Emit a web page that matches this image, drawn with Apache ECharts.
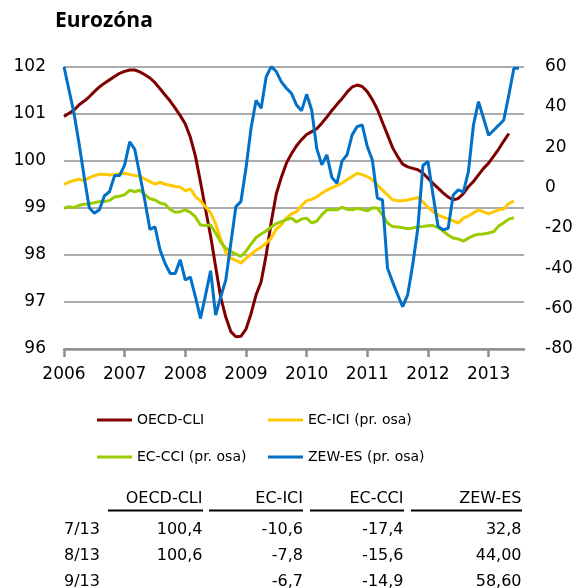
<!DOCTYPE html>
<html>
<head>
<meta charset="utf-8">
<script src="https://cdn.jsdelivr.net/npm/echarts@6/dist/echarts.min.js"></script>
<style>
html,body{margin:0;padding:0;background:#fff;}
#chart{width:583px;height:588px;}
</style>
</head>
<body>
<div id="chart"></div>
<script>
// ---- data ----
const years = ['2006','2007','2008','2009','2010','2011','2012','2013'];
const monthCount = 92;

const oecdCli = [100.94,101.01,101.08,101.19,101.27,101.36,101.47,101.57,101.65,101.72,
101.79,101.86,101.90,101.93,101.93,101.89,101.83,101.76,101.66,101.53,
101.40,101.27,101.12,100.96,100.78,100.50,100.10,99.55,98.97,98.40,
97.75,97.10,96.68,96.37,96.26,96.27,96.42,96.75,97.15,97.43,
98.00,98.70,99.30,99.65,99.95,100.15,100.32,100.45,100.56,100.62,
100.68,100.80,100.93,101.07,101.20,101.32,101.46,101.57,101.61,101.58,
101.47,101.30,101.09,100.82,100.55,100.28,100.09,99.93,99.87,99.84,
99.81,99.74,99.63,99.52,99.42,99.32,99.23,99.17,99.20,99.30,
99.45,99.56,99.70,99.84,99.95,100.10,100.25,100.42,100.58];

const ecIci = [1.7,2.8,3.6,4.2,3.5,5.0,5.9,6.7,6.7,6.3,
6.6,7.0,7.2,6.6,6.0,5.6,4.3,3.0,1.8,2.7,
1.7,1.2,0.6,0.3,-1.6,-0.6,-4.4,-6.5,-9.5,-12.5,
-18.0,-25.5,-32.0,-35.0,-36.0,-37.4,-35.0,-33.0,-31.0,-29.5,
-27.5,-25.0,-20.5,-18.5,-15.0,-13.0,-11.9,-9.0,-6.4,-5.8,
-4.5,-2.8,-1.2,0.0,1.0,2.3,4.0,5.6,7.2,6.5,
5.5,3.9,1.2,-1.2,-3.6,-6.0,-6.5,-6.5,-6.1,-5.5,
-4.9,-7.0,-9.8,-11.9,-13.5,-14.6,-15.5,-16.5,-17.6,-15.1,
-14.0,-12.5,-11.0,-12.0,-13.0,-12.0,-11.0,-10.6,-7.8,-6.7];

const ecCci = [-10.2,-9.4,-9.9,-8.7,-8.2,-7.9,-7.5,-6.9,-6.9,-6.3,
-4.6,-4.2,-3.5,-1.3,-2.0,-1.3,-3.5,-5.4,-6.1,-7.6,
-8.2,-10.8,-12.2,-11.9,-11.0,-12.2,-14.5,-18.5,-18.8,-18.5,
-22.5,-27.0,-30.0,-31.5,-33.0,-34.0,-31.5,-28.0,-24.7,-23.0,
-21.5,-19.5,-17.8,-16.8,-15.8,-15.1,-17.0,-15.5,-15.1,-17.5,
-16.6,-13.5,-11.0,-11.0,-11.0,-9.7,-10.7,-11.0,-10.2,-10.8,
-11.5,-10.0,-10.2,-13.5,-17.5,-19.3,-19.5,-19.9,-20.4,-20.0,
-19.4,-19.3,-18.9,-18.8,-19.8,-21.5,-23.5,-25.0,-25.4,-26.5,
-25.0,-23.8,-23.1,-23.0,-22.5,-21.8,-19.0,-17.4,-15.6,-14.9];

const zewEs = [60.0,48.3,36.7,21.5,5.2,-10.0,-12.7,-11.0,-4.0,-2.0,
6.0,6.0,11.3,22.7,19.0,6.4,-6.5,-20.7,-19.4,-30.9,
-37.6,-42.5,-42.5,-35.8,-45.8,-44.3,-54.1,-64.8,-53.3,-41.2,
-63.2,-54.1,-45.9,-27.7,-9.4,-6.9,9.6,29.5,43.4,39.4,
55.0,60.0,57.6,52.5,49.3,46.8,41.0,38.2,46.3,38.5,
19.5,11.3,16.3,5.0,2.2,13.2,16.3,26.2,30.3,31.1,
20.4,13.7,-5.2,-6.1,-40.0,-46.7,-53.0,-59.0,-53.0,-38.0,
-20.0,11.0,13.0,-3.6,-19.3,-20.9,-20.1,-3.6,-1.1,-2.2,
8.0,31.1,42.7,34.4,26.0,28.5,31.0,33.6,46.0,59.2,59.2];

const seriesNames = ['OECD-CLI','EC-ICI (pr. osa)','EC-CCI (pr. osa)','ZEW-ES (pr. osa)'];

const tableHeaders = ['OECD-CLI','EC-ICI','EC-CCI','ZEW-ES'];
const tableRowLabels = ['7/13','8/13','9/13'];
const tableOecd = ['100,4','100,6',''];
const tableIci = ['-10,6','-7,8','-6,7'];
const tableCci = ['-17,4','-15,6','-14,9'];
const tableZew = ['32,8','44,00','58,60'];

// ---- build ----
const categories = [];
for (const y of years) for (let m = 1; m <= 12; m++) categories.push(y + '-' + (m < 10 ? '0' + m : m));
categories.length = monthCount;

const colors = ['#800000','#FFC800','#99CC00','#0070C8'];
const FONT = '"DejaVu Sans", sans-serif';
const gridCol = '#8f8f8f';

const legendPos = [[97,412],[268,412],[97,449],[268,449]];
const legends = seriesNames.map((n,i)=>({
  data:[n], left:legendPos[i][0], top:legendPos[i][1], padding:0, itemGap:0,
  icon:'rect', itemWidth:35, itemHeight:3, selectedMode:false,
  textStyle:{fontFamily:FONT, fontSize:14, color:'#000', lineHeight:16}
}));

const colRight = [202.5, 303, 403.5, 521.5];
const colLineSpan = [[108,203],[209,303],[310,404],[411,522]];
const headerY = 499;
const rowY = [529.7, 555.5, 582];
const tableCols = [tableOecd, tableIci, tableCci, tableZew];
const tfont = '16px "DejaVu Sans"';
const graphics = [];
tableHeaders.forEach((h,i)=>{
  graphics.push({type:'text', x:colRight[i], y:headerY, style:{text:h, align:'right', verticalAlign:'middle', font:tfont, fill:'#000'}});
  graphics.push({type:'line', shape:{x1:colLineSpan[i][0], y1:510.5, x2:colLineSpan[i][1], y2:510.5}, style:{stroke:'#000', lineWidth:2}});
});
tableRowLabels.forEach((r,j)=>{
  graphics.push({type:'text', x:64, y:rowY[j], style:{text:r, align:'left', verticalAlign:'middle', font:tfont, fill:'#000'}});
  tableCols.forEach((col,i)=>{
    graphics.push({type:'text', x:colRight[i], y:rowY[j], style:{text:col[j], align:'right', verticalAlign:'middle', font:tfont, fill:'#000'}});
  });
});

const dataSets = [oecdCli, ecIci, ecCci, zewEs];
const option = {
  animation:false,
  backgroundColor:'#fff',
  title:{text:'Eurozóna', left:55, top:11, padding:0,
    textStyle:{fontFamily:'"Open Sans", sans-serif', fontWeight:'bold', fontSize:21, color:'#000'}},
  legend:legends,
  grid:{left:64, right:59, top:66.7, bottom:239, containLabel:false},
  xAxis:{
    type:'category', data:categories, boundaryGap:false,
    axisLine:{show:true, onZero:false, lineStyle:{color:gridCol, width:2.5}},
    axisTick:{show:true, length:8, interval:(i)=>i%12===0, lineStyle:{color:gridCol, width:2.5}},
    axisLabel:{interval:(i)=>i%12===0, margin:17, fontFamily:FONT, fontSize:17, color:'#000',
      formatter:(v,i)=>years[Math.floor(i/12)]},
    splitLine:{show:false}
  },
  yAxis:[
    {type:'value', min:96, max:102, interval:1, position:'left',
     axisLine:{show:false}, axisTick:{show:false},
     axisLabel:{margin:18, fontFamily:FONT, fontSize:17, color:'#000'},
     splitLine:{show:true, lineStyle:{color:gridCol, width:1.5}}},
    {type:'value', min:-80, max:60, interval:20, position:'right',
     axisLine:{show:false}, axisTick:{show:false},
     axisLabel:{margin:21, fontFamily:FONT, fontSize:17, color:'#000'},
     splitLine:{show:false}}
  ],
  series:dataSets.map((d,i)=>({
    name:seriesNames[i], type:'line', yAxisIndex:i===0?0:1, data:d,
    symbol:'none', lineStyle:{width:3, color:colors[i]}, itemStyle:{color:colors[i]},
    z:2+i
  })),
  graphic:graphics
};
echarts.init(document.getElementById('chart'), null, {renderer:'canvas'}).setOption(option);
</script>
</body>
</html>
